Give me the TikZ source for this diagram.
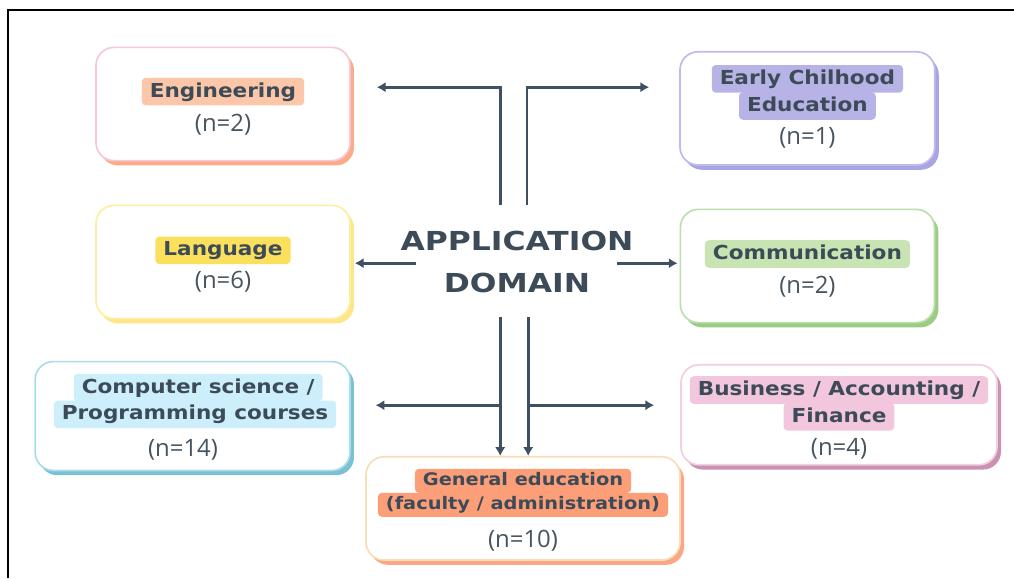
\documentclass[tikz,border=0pt]{standalone}
\usepackage{fontspec}
\newfontfamily\tagfont[FakeStretch=1.12]{DejaVu Sans}
\newfontfamily\hubfont[FakeStretch=1.2]{DejaVu Sans}
\newfontfamily\countfont{Open Sans}
\usetikzlibrary{positioning,shadows,arrows.meta}

\definecolor{slate}{HTML}{3C4B57}
\definecolor{countgrey}{HTML}{46545F}
\definecolor{arrowslate}{HTML}{3E5061}
\definecolor{engLine}{HTML}{F7C8DA}\definecolor{engShade}{HTML}{FBAB88}\definecolor{engTag}{HTML}{FCC6A8}
\definecolor{earlyLine}{HTML}{BDBBEE}\definecolor{earlyShade}{HTML}{A8A5E2}\definecolor{earlyTag}{HTML}{B8B3E6}
\definecolor{langLine}{HTML}{FDEFA0}\definecolor{langShade}{HTML}{FDE58A}\definecolor{langTag}{HTML}{FBE05E}
\definecolor{commLine}{HTML}{BCDFAE}\definecolor{commShade}{HTML}{9CCB85}\definecolor{commTag}{HTML}{C8E4B3}
\definecolor{csLine}{HTML}{A8DDEC}\definecolor{csShade}{HTML}{7CC0D3}\definecolor{csTag}{HTML}{CDEFFC}
\definecolor{busLine}{HTML}{F3CDE0}\definecolor{busShade}{HTML}{C992B2}\definecolor{busTag}{HTML}{F2C6DC}
\definecolor{genLine}{HTML}{F8DDB8}\definecolor{genShade}{HTML}{FBA684}\definecolor{genTag}{HTML}{FC9E78}

\tikzset{
  box/.style 2 args={draw=#1, fill=white, line width=1.2pt, rounded corners=0.45cm,
    minimum width=6.35cm, minimum height=2.83cm,
    drop shadow={shadow xshift=0.1cm, shadow yshift=-0.12cm, fill=#2, opacity=1}},
  tag/.style={fill=#1, rounded corners=0.1cm, text=slate,
    font=\tagfont\bfseries\fontsize{13.7}{16}\selectfont,
    inner xsep=0.2cm, inner ysep=0.11cm, text height=0.37cm, text depth=0.1cm},
  smalltag/.style={tag=#1, font=\tagfont\bfseries\fontsize{12.3}{15}\selectfont,
    text height=0.33cm, text depth=0.09cm, inner ysep=0.09cm},
  count/.style={text=countgrey, font=\countfont\fontsize{17}{20}\selectfont},
  hub/.style={align=center, text=slate, font=\hubfont\bfseries\fontsize{18.6}{29.8}\selectfont},
  flow/.style={draw=arrowslate, line width=2pt},
  >={Latex[length=0.22cm,width=0.26cm]}
}

\begin{document}
\begin{tikzpicture}
\path[use as bounding box, fill=white] (-12.925,-7.9) rectangle (12.425,6.55);
\draw[line width=1.4pt] (-12.725,-7.9) -- (-12.725,6.3) -- (12.425,6.3);

\node[hub] (hub) at (0,0) {APPLICATION\\DOMAIN};

% domain boxes around the hub
\node[box={langLine}{langShade}] (lang) [left of=hub, node distance=7.35cm] {};
\node[box={commLine}{commShade}] (comm) [right of=hub, node distance=7.26cm, yshift=-0.1cm] {};
\node[box={engLine}{engShade}] (eng) [above of=lang, node distance=3.95cm] {};
\node[box={earlyLine}{earlyShade}, minimum width=6.37cm] (early) [above of=comm, node distance=3.94cm] {};
\node[box={csLine}{csShade}, minimum width=7.87cm, minimum height=2.72cm] (cs) [below of=lang, node distance=3.85cm, xshift=-0.76cm] {};
\node[box={busLine}{busShade}, minimum width=7.9cm, minimum height=2.5cm] (bus) [below of=comm, node distance=3.72cm, xshift=0.79cm] {};
\node[box={genLine}{genShade}, minimum width=7.85cm, minimum height=2.58cm] (gen) [below of=hub, node distance=6.16cm, xshift=0.15cm] {};

% labels and counts
\node[tag=engTag] (engT) [above of=eng, node distance=0.31cm] {Engineering};
\node[count] (engN) [below of=eng, node distance=0.51cm] {(n=2)};

\node[tag=earlyTag] (earlyT1) [above of=early, node distance=0.74cm] {Early Chilhood};
\node[tag=earlyTag] (earlyT2) [above of=early, node distance=0.06cm] {Education};
\node[count] (earlyN) [below of=early, node distance=0.74cm] {(n=1)};

\node[tag=langTag] (langT) [above of=lang, node distance=0.29cm] {Language};
\node[count] (langN) [below of=lang, node distance=0.49cm] {(n=6)};

\node[tag=commTag] (commT) [above of=comm, node distance=0.3cm] {Communication};
\node[count] (commN) [below of=comm, node distance=0.52cm] {(n=2)};

\node[tag=csTag] (csT1) [above of=cs, node distance=0.71cm, xshift=0.14cm] {Computer science /};
\node[tag=csTag] (csT2) [above of=cs, node distance=0.04cm, xshift=0.06cm] {Programming courses};
\node[count] (csN) [below of=cs, node distance=0.84cm, xshift=-0.24cm] {(n=14)};

\node[tag=busTag] (busT1) [above of=bus, node distance=0.62cm] {Business / Accounting /};
\node[tag=busTag] (busT2) [below of=bus, node distance=0.05cm] {Finance};
\node[count] (busN) [below of=bus, node distance=0.85cm] {(n=4)};

\node[smalltag=genTag] (genT1) [above of=gen, node distance=0.69cm] {General education};
\node[smalltag=genTag] (genT2) [above of=gen, node distance=0.09cm] {(faculty / administration)};
\node[count] (genN) [below of=gen, node distance=0.8cm] {(n=10)};

% connectors
\coordinate (hubNW) at ([xshift=-0.42cm, yshift=1.42cm]hub.center);
\coordinate (hubNE) at ([xshift=0.25cm, yshift=1.42cm]hub.center);
\coordinate (hubW) at ([xshift=-2.52cm, yshift=-0.03cm]hub.center);
\coordinate (hubE) at ([xshift=2.5cm, yshift=-0.03cm]hub.center);
\coordinate (hubSW) at ([xshift=-0.42cm, yshift=-1.38cm]hub.center);
\coordinate (hubSE) at ([xshift=0.28cm, yshift=-1.38cm]hub.center);
\coordinate (splitL) at ([yshift=-2.2cm]hubSW);
\coordinate (splitR) at ([yshift=-2.2cm]hubSE);

\draw[flow, ->] (hubNW) |- ([xshift=0.65cm, yshift=0.42cm]eng.east);
\draw[flow, ->] (hubNE) |- ([xshift=-0.75cm, yshift=0.53cm]early.west);
\draw[flow, ->, shorten >=0.1cm] (hubW) -- (hubW -| lang.east);
\draw[flow, ->, shorten >=0.05cm] (hubE) -- (hubE -| comm.west);
\draw[flow, ->] (hubSW) -- (hubSW |- gen.north);
\draw[flow, ->] (hubSE) -- (hubSE |- gen.north);
\draw[flow, ->, shorten >=0.62cm] (splitL) -- (splitL -| cs.east);
\draw[flow, ->, shorten >=0.65cm] (splitR) -- (splitR -| bus.west);
\end{tikzpicture}
\end{document}
